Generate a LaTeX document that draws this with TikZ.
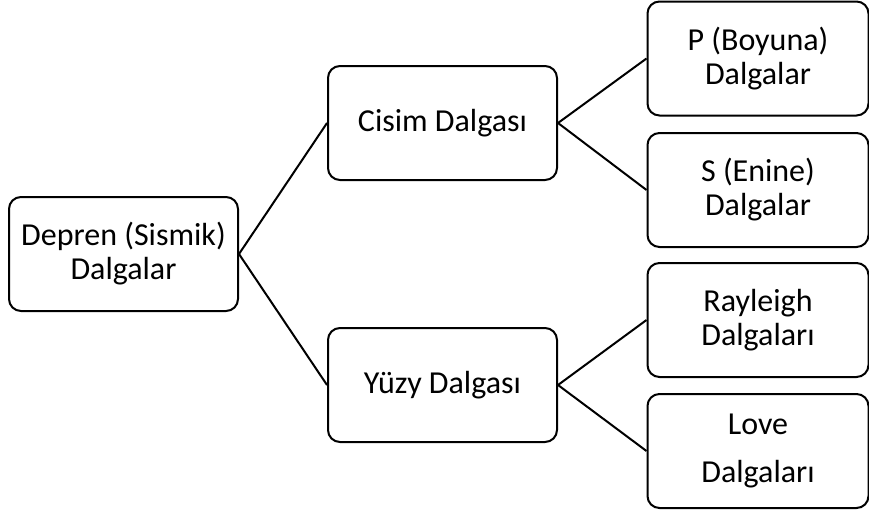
\documentclass[tikz,border=0pt]{standalone}
\usepackage{fontspec}
\setmainfont{Carlito}

\begin{document}
\begin{tikzpicture}[x=1pt, y=-1pt,
        wave/.style={draw=black, line width=2pt, rounded corners=12pt,
            minimum width=229pt, minimum height=114pt, align=center,
            inner sep=0pt, font=\fontsize{32}{34}\selectfont},
        subwave/.style={wave, minimum width=221pt},
        branch/.style={black, line width=2pt}]
        \useasboundingbox (0,0) rectangle (869,512);
        \node[wave] (depren) at (123.5,254) {Depren (Sismik)\\Dalgalar};
        \node[wave] (cisim) at (442.5,123) {Cisim Dalgası};
        \node[wave] (yuzey) at (442.5,385) {Yüzy Dalgası};
        \node[subwave] (pdalga) at (758,58.5) {P (Boyuna)\\Dalgalar};
        \node[subwave] (sdalga) at (758,190) {S (Enine)\\Dalgalar};
        \node[subwave] (rayleigh) at (758,320) {Rayleigh\\Dalgaları};
        \node[subwave] (love) at (758,451) {Love\\[14pt]Dalgaları};
        \draw[branch] (depren.east) -- (cisim.west);
        \draw[branch] (depren.east) -- (yuzey.west);
        \draw[branch] (cisim.east) -- (pdalga.west);
        \draw[branch] (cisim.east) -- (sdalga.west);
        \draw[branch] (yuzey.east) -- (rayleigh.west);
        \draw[branch] (yuzey.east) -- (love.west);
    \end{tikzpicture}
\end{document}
